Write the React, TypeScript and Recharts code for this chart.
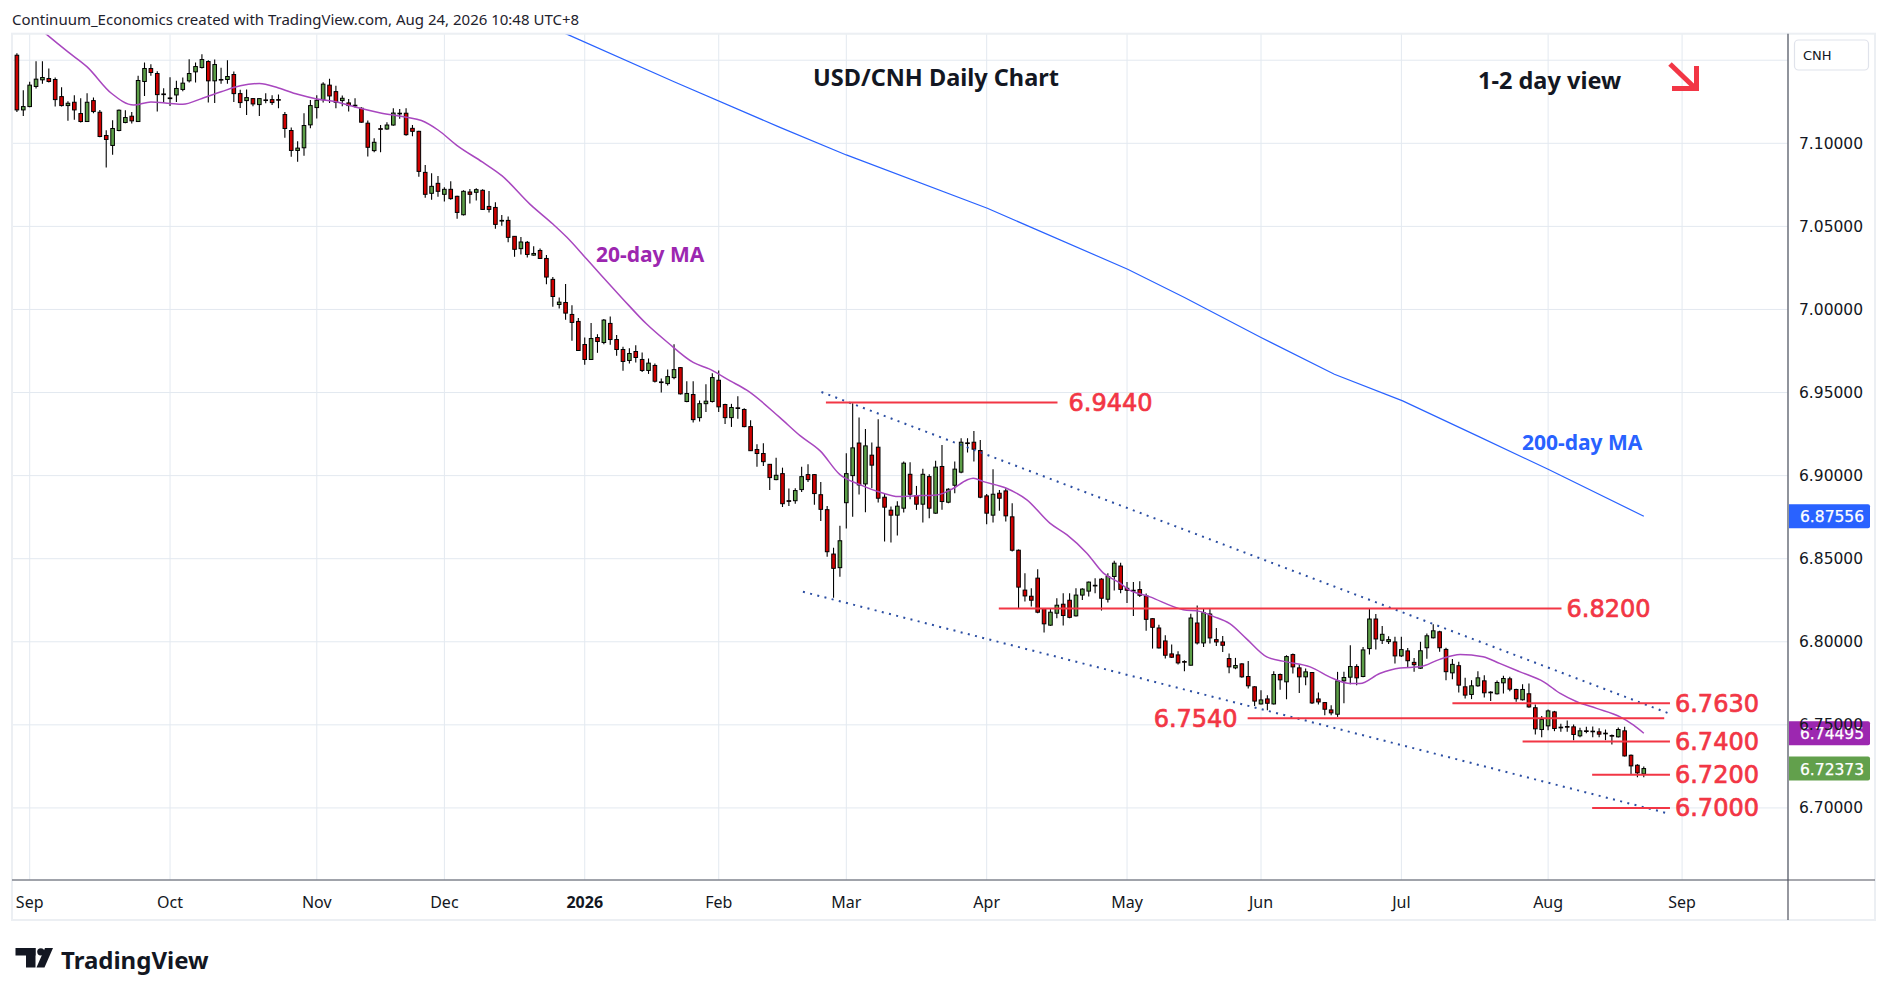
import React from 'react';
import { ComposedChart, Bar, Line, XAxis, YAxis, CartesianGrid, ReferenceLine, ReferenceDot } from 'recharts';

// USD/CNH daily candles, 28 Aug 2025 .. 24 Aug 2026 (x = trading-day index, no 25 Dec / 1 Jan)
const opens = [
  7.1530, 7.1201, 7.1221, 7.1342, 7.1382, 7.1390, 7.1384, 7.1281, 7.1227, 7.1247,
  7.1179, 7.1131, 7.1257, 7.1187, 7.1047, 7.0987, 7.1077, 7.1125, 7.1163, 7.1131,
  7.1372, 7.1450, 7.1420, 7.1297, 7.1273, 7.1291, 7.1324, 7.1376, 7.1430, 7.1456,
  7.1492, 7.1376, 7.1384, 7.1384, 7.1414, 7.1299, 7.1257, 7.1269, 7.1233, 7.1261,
  7.1263, 7.1263, 7.1173, 7.1077, 7.0957, 7.0973, 7.1111, 7.1215, 7.1263, 7.1350,
  7.1311, 7.1257, 7.1243, 7.1229, 7.1211, 7.1121, 7.0956, 7.1088, 7.1086, 7.1110,
  7.1181, 7.1181, 7.1090, 7.1072, 7.0825, 7.0699, 7.0759, 7.0693, 7.0723, 7.0681,
  7.0570, 7.0707, 7.0705, 7.0717, 7.0620, 7.0614, 7.0536, 7.0536, 7.0440, 7.0366,
  7.0404, 7.0327, 7.0355, 7.0307, 7.0181, 7.0030, 7.0042, 6.9970, 6.9928, 6.9789,
  6.9699, 6.9831, 6.9801, 6.9916, 6.9819, 6.9759, 6.9693, 6.9747, 6.9699, 6.9633,
  6.9663, 6.9564, 6.9554, 6.9590, 6.9650, 6.9446, 6.9488, 6.9349, 6.9433, 6.9446,
  6.9574, 6.9428, 6.9349, 6.9408, 6.9398, 6.9295, 6.9157, 6.9133, 6.9068, 6.8976,
  6.9012, 6.8849, 6.8849, 6.8916, 6.9006, 6.9006, 6.8885, 6.8795, 6.8528, 6.8446,
  6.8837, 6.9000, 6.9196, 6.8950, 6.9123, 6.9171, 6.8870, 6.8792, 6.8762, 6.8804,
  6.9008, 6.8880, 6.8828, 6.8994, 6.8774, 6.9055, 6.8840, 6.8942, 6.9021, 6.9197,
  6.9201, 6.9151, 6.8878, 6.8762, 6.8894, 6.8908, 6.8752, 6.8551, 6.8311, 6.8274,
  6.8383, 6.8200, 6.8100, 6.8172, 6.8226, 6.8250, 6.8156, 6.8281, 6.8305, 6.8340,
  6.8377, 6.8256, 6.8393, 6.8456, 6.8322, 6.8310, 6.8314, 6.8276, 6.8139, 6.8083,
  6.8005, 6.7927, 6.7921, 6.7881, 6.7859, 6.8113, 6.7993, 6.8167, 6.8013, 6.7999,
  6.7899, 6.7843, 6.7867, 6.7791, 6.7729, 6.7626, 6.7656, 6.7626, 6.7803, 6.7759,
  6.7923, 6.7843, 6.7789, 6.7815, 6.7656, 6.7634, 6.7590, 6.7564, 6.7765, 6.7787,
  6.7851, 6.7791, 6.7959, 6.8137, 6.8009, 6.8001, 6.7999, 6.7915, 6.7945, 6.7876,
  6.7841, 6.7964, 6.8024, 6.8060, 6.7954, 6.7813, 6.7856, 6.7729, 6.7683, 6.7735,
  6.7765, 6.7697, 6.7687, 6.7753, 6.7777, 6.7713, 6.7651, 6.7687, 6.7603, 6.7472,
  6.7494, 6.7578, 6.7486, 6.7490, 6.7488, 6.7434, 6.7464, 6.7462, 6.7458, 6.7450,
  6.7436, 6.7428, 6.7464, 6.7317, 6.7257, 6.7205,
];
const highs = [
  7.1542, 7.1320, 7.1370, 7.1494, 7.1494, 7.1450, 7.1396, 7.1338, 7.1253, 7.1289,
  7.1271, 7.1301, 7.1275, 7.1201, 7.1079, 7.1139, 7.1203, 7.1199, 7.1189, 7.1406,
  7.1486, 7.1476, 7.1434, 7.1332, 7.1398, 7.1376, 7.1396, 7.1506, 7.1486, 7.1536,
  7.1500, 7.1504, 7.1454, 7.1500, 7.1432, 7.1322, 7.1324, 7.1271, 7.1271, 7.1301,
  7.1289, 7.1293, 7.1189, 7.1095, 7.1013, 7.1181, 7.1261, 7.1289, 7.1368, 7.1388,
  7.1347, 7.1287, 7.1267, 7.1271, 7.1217, 7.1137, 7.1030, 7.1110, 7.1127, 7.1211,
  7.1207, 7.1211, 7.1110, 7.1075, 7.0870, 7.0819, 7.0803, 7.0735, 7.0771, 7.0685,
  7.0717, 7.0725, 7.0729, 7.0723, 7.0713, 7.0645, 7.0568, 7.0560, 7.0442, 7.0436,
  7.0412, 7.0381, 7.0367, 7.0327, 7.0195, 7.0072, 7.0153, 7.0026, 6.9948, 6.9831,
  6.9918, 6.9851, 6.9942, 6.9958, 6.9846, 6.9775, 6.9767, 6.9785, 6.9741, 6.9705,
  6.9675, 6.9584, 6.9638, 6.9791, 6.9654, 6.9568, 6.9568, 6.9452, 6.9550, 6.9616,
  6.9632, 6.9432, 6.9432, 6.9478, 6.9406, 6.9333, 6.9189, 6.9195, 6.9070, 6.9108,
  6.9048, 6.8922, 6.8924, 6.9054, 6.9068, 6.9010, 6.8962, 6.8817, 6.8566, 6.8698,
  6.9135, 6.9436, 6.9350, 6.9281, 6.9199, 6.9339, 6.8894, 6.8814, 6.8846, 6.9085,
  6.9081, 6.8938, 6.9041, 6.9008, 6.9089, 6.9185, 6.8924, 6.9085, 6.9225, 6.9225,
  6.9269, 6.9215, 6.8890, 6.9039, 6.8914, 6.8924, 6.8834, 6.8555, 6.8413, 6.8322,
  6.8437, 6.8204, 6.8202, 6.8262, 6.8292, 6.8292, 6.8322, 6.8322, 6.8363, 6.8383,
  6.8383, 6.8413, 6.8487, 6.8475, 6.8360, 6.8360, 6.8364, 6.8290, 6.8141, 6.8103,
  6.8039, 6.7983, 6.7943, 6.7889, 6.8169, 6.8219, 6.8203, 6.8199, 6.8083, 6.8035,
  6.7929, 6.7903, 6.7871, 6.7885, 6.7733, 6.7708, 6.7678, 6.7823, 6.7809, 6.7919,
  6.7929, 6.7863, 6.7839, 6.7817, 6.7694, 6.7638, 6.7618, 6.7819, 6.7819, 6.7979,
  6.7865, 6.7969, 6.8199, 6.8167, 6.8095, 6.8033, 6.8030, 6.8030, 6.7962, 6.7902,
  6.8000, 6.8050, 6.8106, 6.8066, 6.7964, 6.7896, 6.7880, 6.7783, 6.7769, 6.7823,
  6.7799, 6.7703, 6.7767, 6.7795, 6.7789, 6.7717, 6.7745, 6.7749, 6.7623, 6.7554,
  6.7592, 6.7584, 6.7506, 6.7526, 6.7502, 6.7482, 6.7488, 6.7490, 6.7480, 6.7472,
  6.7442, 6.7484, 6.7488, 6.7321, 6.7263, 6.7249,
];
const lows = [
  7.1189, 7.1165, 7.1217, 7.1330, 7.1358, 7.1366, 7.1221, 7.1221, 7.1135, 7.1141,
  7.1125, 7.1129, 7.1181, 7.1037, 7.0855, 7.0931, 7.1073, 7.1121, 7.1119, 7.1129,
  7.1285, 7.1406, 7.1191, 7.1245, 7.1225, 7.1249, 7.1313, 7.1366, 7.1366, 7.1450,
  7.1245, 7.1243, 7.1358, 7.1358, 7.1249, 7.1213, 7.1171, 7.1223, 7.1165, 7.1241,
  7.1231, 7.1211, 7.1033, 7.0919, 7.0889, 7.0925, 7.1091, 7.1149, 7.1245, 7.1243,
  7.1211, 7.1223, 7.1191, 7.1215, 7.1123, 7.0920, 7.0946, 7.0946, 7.1082, 7.1106,
  7.1147, 7.1046, 7.1042, 7.0799, 7.0673, 7.0661, 7.0679, 7.0649, 7.0661, 7.0546,
  7.0566, 7.0637, 7.0655, 7.0600, 7.0584, 7.0486, 7.0504, 7.0404, 7.0317, 7.0331,
  7.0313, 7.0323, 7.0303, 7.0151, 7.0016, 7.0006, 6.9938, 6.9811, 6.9751, 6.9667,
  6.9697, 6.9739, 6.9791, 6.9787, 6.9721, 6.9631, 6.9675, 6.9681, 6.9624, 6.9612,
  6.9560, 6.9500, 6.9542, 6.9580, 6.9488, 6.9442, 6.9319, 6.9325, 6.9383, 6.9440,
  6.9383, 6.9311, 6.9293, 6.9343, 6.9291, 6.9148, 6.9054, 6.9058, 6.8914, 6.8972,
  6.8811, 6.8817, 6.8831, 6.8902, 6.8962, 6.8825, 6.8727, 6.8512, 6.8265, 6.8392,
  6.8681, 6.8752, 6.8887, 6.8780, 6.8924, 6.8838, 6.8603, 6.8597, 6.8639, 6.8778,
  6.8858, 6.8794, 6.8718, 6.8744, 6.8770, 6.8794, 6.8834, 6.8894, 6.9015, 6.9139,
  6.9085, 6.8864, 6.8708, 6.8718, 6.8788, 6.8724, 6.8543, 6.8198, 6.8243, 6.8212,
  6.8172, 6.8056, 6.8096, 6.8142, 6.8098, 6.8142, 6.8152, 6.8252, 6.8272, 6.8292,
  6.8188, 6.8236, 6.8308, 6.8292, 6.8234, 6.8155, 6.8270, 6.8067, 6.7959, 6.7959,
  6.7899, 6.7903, 6.7863, 6.7823, 6.7857, 6.7983, 6.7969, 6.7989, 6.7975, 6.7939,
  6.7811, 6.7835, 6.7783, 6.7719, 6.7614, 6.7622, 6.7588, 6.7622, 6.7712, 6.7654,
  6.7809, 6.7692, 6.7739, 6.7626, 6.7622, 6.7558, 6.7558, 6.7548, 6.7630, 6.7745,
  6.7739, 6.7787, 6.7923, 6.7953, 6.7987, 6.7987, 6.7870, 6.7909, 6.7845, 6.7819,
  6.7837, 6.7898, 6.8020, 6.7940, 6.7769, 6.7775, 6.7695, 6.7659, 6.7655, 6.7729,
  6.7665, 6.7643, 6.7683, 6.7689, 6.7703, 6.7639, 6.7647, 6.7603, 6.7442, 6.7426,
  6.7468, 6.7462, 6.7458, 6.7458, 6.7408, 6.7426, 6.7450, 6.7426, 6.7426, 6.7408,
  6.7382, 6.7424, 6.7309, 6.7201, 6.7185, 6.7185,
];
const closes = [
  7.1201, 7.1221, 7.1350, 7.1386, 7.1396, 7.1372, 7.1263, 7.1227, 7.1241, 7.1201,
  7.1131, 7.1247, 7.1191, 7.1041, 7.1023, 7.1089, 7.1199, 7.1155, 7.1135, 7.1378,
  7.1450, 7.1426, 7.1293, 7.1293, 7.1269, 7.1330, 7.1362, 7.1420, 7.1462, 7.1504,
  7.1376, 7.1474, 7.1382, 7.1402, 7.1299, 7.1245, 7.1275, 7.1237, 7.1269, 7.1259,
  7.1245, 7.1261, 7.1089, 7.0957, 7.0971, 7.1107, 7.1227, 7.1259, 7.1356, 7.1285,
  7.1247, 7.1271, 7.1227, 7.1225, 7.1127, 7.0976, 7.1006, 7.1084, 7.1110, 7.1182,
  7.1177, 7.1052, 7.1072, 7.0831, 7.0693, 7.0741, 7.0711, 7.0723, 7.0667, 7.0584,
  7.0711, 7.0693, 7.0721, 7.0602, 7.0602, 7.0512, 7.0532, 7.0434, 7.0362, 7.0406,
  7.0331, 7.0337, 7.0307, 7.0195, 7.0078, 7.0044, 6.9978, 6.9922, 6.9753, 6.9699,
  6.9825, 6.9807, 6.9936, 6.9819, 6.9759, 6.9687, 6.9735, 6.9711, 6.9633, 6.9677,
  6.9568, 6.9560, 6.9596, 6.9638, 6.9492, 6.9494, 6.9337, 6.9433, 6.9448, 6.9590,
  6.9414, 6.9349, 6.9410, 6.9404, 6.9295, 6.9150, 6.9133, 6.9084, 6.8988, 6.9002,
  6.8831, 6.8845, 6.8910, 6.8994, 6.8976, 6.8892, 6.8797, 6.8542, 6.8442, 6.8608,
  6.9012, 6.9167, 6.8944, 6.9179, 6.9063, 6.8864, 6.8810, 6.8762, 6.8816, 6.9075,
  6.8888, 6.8828, 6.9008, 6.8804, 6.9051, 6.8844, 6.8918, 6.9039, 6.9201, 6.9193,
  6.9159, 6.8870, 6.8774, 6.8888, 6.8864, 6.8758, 6.8551, 6.8329, 6.8276, 6.8250,
  6.8178, 6.8108, 6.8178, 6.8220, 6.8158, 6.8147, 6.8281, 6.8317, 6.8359, 6.8336,
  6.8262, 6.8393, 6.8473, 6.8315, 6.8310, 6.8305, 6.8280, 6.8135, 6.8087, 6.7963,
  6.7919, 6.7907, 6.7873, 6.7877, 6.8143, 6.7993, 6.8175, 6.8023, 6.7999, 6.7979,
  6.7849, 6.7857, 6.7789, 6.7735, 6.7643, 6.7650, 6.7630, 6.7803, 6.7771, 6.7911,
  6.7849, 6.7789, 6.7819, 6.7632, 6.7638, 6.7594, 6.7572, 6.7765, 6.7785, 6.7851,
  6.7783, 6.7951, 6.8137, 6.8017, 6.8045, 6.8013, 6.7915, 6.7953, 6.7886, 6.7862,
  6.7946, 6.8036, 6.8066, 6.7964, 6.7820, 6.7864, 6.7739, 6.7679, 6.7735, 6.7783,
  6.7693, 6.7693, 6.7755, 6.7779, 6.7715, 6.7657, 6.7713, 6.7608, 6.7476, 6.7532,
  6.7584, 6.7478, 6.7482, 6.7486, 6.7442, 6.7464, 6.7460, 6.7460, 6.7444, 6.7446,
  6.7432, 6.7472, 6.7313, 6.7253, 6.7211, 6.7237,
];

const monthTicks = [2, 24, 47, 67, 89, 110, 130, 152, 174, 195, 217, 240, 261];
const monthLabels = ['Sep', 'Oct', 'Nov', 'Dec', '2026', 'Feb', 'Mar', 'Apr', 'May', 'Jun', 'Jul', 'Aug', 'Sep'];
const priceTicks = [6.7, 6.75, 6.8, 6.85, 6.9, 6.95, 7.0, 7.05, 7.1, 7.15];

// moving averages
const ma20Index = [
  0, 4.5, 8, 11, 14.8, 18.3, 21, 24, 26, 29, 32, 35, 38, 41, 44, 47, 50, 53, 57, 61,
  63.4, 66, 69, 73, 76, 80.4, 84, 86.2, 89.3, 91.4, 95, 98.7, 102, 106, 108.5, 111.8, 114.4, 119.6, 122.8, 125.9,
  129, 132.1, 135.8, 138.1, 140.5, 144.2, 146.8, 148.9, 149.9, 151.5, 155.1, 158.3, 161.9, 164.6, 167.7, 170.3, 172.9, 174, 177.6, 182.8,
  185.4, 187.5, 190.1, 192.7, 195.9, 199, 202.7, 206.3, 209, 210.5, 213.6, 216.8, 219.9, 223, 226.2, 229.8, 232.4, 235.6, 239.3, 241.9,
  244.5, 247.6, 251.3, 253.4, 255,
];
const ma20Values = [
  7.181, 7.166, 7.155, 7.146, 7.1301, 7.1230, 7.1249, 7.1240, 7.1235, 7.1270, 7.1310, 7.1346, 7.1360, 7.1333, 7.1295, 7.1267, 7.1250, 7.1218, 7.1183, 7.1157,
  7.1137, 7.1080, 7.0986, 7.0886, 7.0805, 7.0634, 7.0514, 7.0434, 7.0303, 7.0213, 7.0062, 6.9912, 6.9801, 6.9681, 6.9642, 6.9570, 6.9514, 6.9349, 6.9239, 6.9149,
  6.9006, 6.8946, 6.8894, 6.8874, 6.8878, 6.8884, 6.8924, 6.8974, 6.8984, 6.8964, 6.8924, 6.8854, 6.8714, 6.8643, 6.8533, 6.8413, 6.8353, 6.8320, 6.8270, 6.8193,
  6.8183, 6.8153, 6.8109, 6.8019, 6.7909, 6.7879, 6.7849, 6.7779, 6.7749, 6.7749, 6.7809, 6.7842, 6.7849, 6.7894, 6.7924, 6.7910, 6.7870, 6.7819, 6.7759, 6.7689,
  6.7639, 6.7599, 6.7548, 6.7498, 6.74495,
];
const ma200Index = [80, 86, 103, 119.6, 130, 152.1, 174.1, 183, 195, 206.5, 217.2, 228.9, 240, 255];
const ma200Values = [7.176, 7.166, 7.137, 7.1096, 7.093, 7.0609, 7.0242, 7.0072, 6.9831, 6.961, 6.945, 6.9239, 6.9038, 6.87556];

// drawn support / resistance levels
const levelValues = [6.944, 6.82, 6.763, 6.754, 6.74, 6.72, 6.7];
const levelNames = ['6.9440', '6.8200', '6.7630', '6.7540', '6.7400', '6.7200', '6.7000'];
const levelFrom = [126.8, 153.9, 225.0, 192.9, 236.0, 246.9, 246.9];
const levelTo = [163.1, 242.1, 259.1, 258.2, 259.1, 259.1, 259.1];
const levelLabelLeft = [false, false, false, true, false, false, false];

// falling channel (dotted)
const channelStart = [[126.1, 6.9503], [123.2, 6.8301]];
const channelEnd = [[258.8, 6.7571], [259.1, 6.6964]];

const lastValues = [6.87556, 6.74495, 6.72373];
const lastColors = ['#2962ff', '#9c27b0', '#62a04c'];

const SANS = '"Noto Sans", sans-serif';
const WIDE = '"DejaVu Sans", sans-serif';
const RED = '#f23645';
const UP = '#5c9e47';
const DOWN = '#d00000';

const candles = opens.map((o, i) => ({
  i,
  range: [lows[i], highs[i]],
  open: o,
  high: highs[i],
  low: lows[i],
  close: closes[i],
}));
const ma20Data = ma20Index.map((i, k) => ({ i, v: ma20Values[k] }));
const ma200Data = ma200Index.map((i, k) => ({ i, v: ma200Values[k] }));

const Candle = (props: any) => {
  const { x, y, width, height, payload } = props;
  if (x == null || y == null || !payload) return null;
  const { open, close, high, low } = payload;
  const top = Math.min(y, y + height);
  const h = Math.abs(height);
  const cx = x + width / 2;
  const per = high > low ? h / (high - low) : 0;
  const yOf = (v: number) => top + (high - v) * per;
  const bTop = yOf(Math.max(open, close));
  const bBot = yOf(Math.min(open, close));
  return (
    <g>
      <line x1={cx} x2={cx} y1={top} y2={top + h} stroke="#000" strokeWidth={1.1} />
      <rect x={cx - 1.8} y={bTop} width={3.6} height={Math.max(bBot - bTop, 0.6)}
        fill={close >= open ? UP : DOWN} stroke="#000" strokeWidth={1} />
    </g>
  );
};

const TimeTick = (props: any) => {
  const { x, y, payload } = props;
  const k = monthTicks.indexOf(payload.value);
  const label = monthLabels[k];
  return (
    <text x={x} y={y + 28} textAnchor="middle" fontFamily={SANS} fontSize={16}
      fontWeight={label === '2026' ? 700 : 400} fill="#131722">{label}</text>
  );
};

const PriceTick = (props: any) => {
  const { x, y, payload } = props;
  if (payload.value > 7.12) return <g />;
  return (
    <text x={x + 11} y={y + 5.5} fontFamily={WIDE} fontSize={15.5} fill="#131722">
      {payload.value.toFixed(5)}
    </text>
  );
};

const levelLabel = (text: string, left: boolean, gap: number) => (p: any) => {
  const vb = p.viewBox;
  const cx = vb.x + vb.width / 2;
  const cy = vb.y + vb.height / 2;
  return (
    <text x={left ? cx - gap : cx + gap} y={cy + 8.5} textAnchor={left ? 'end' : 'start'}
      fontFamily={WIDE} fontSize={24} fill={RED} stroke={RED} strokeWidth={0.7}>{text}</text>
  );
};

const badge = (value: number, color: string) => (p: any) => {
  const vb = p.viewBox;
  const bx = vb.x + vb.width + 1;
  return (
    <g>
      <path d={`M${bx},${vb.y - 12} h79 a2,2 0 0 1 2,2 v20 a2,2 0 0 1 -2,2 h-79 z`} fill={color} />
      <text x={bx + 11} y={vb.y + 6} fontFamily={WIDE} fontSize={15.5} fill="#fff"
        stroke="#fff" strokeWidth={0.25}>{value.toFixed(5)}</text>
    </g>
  );
};

const App: React.FC = () => {
  return (
    <div style={{ position: 'absolute', left: 0, top: 0, width: 1888, height: 996, background: '#fff' }}>
      <ComposedChart width={1888} height={996} data={candles}
        margin={{ top: 33.7, right: 13, bottom: 76, left: 12 }}>
        <CartesianGrid stroke="#e3e9f0" strokeWidth={1} />
        <XAxis dataKey="i" type="number" domain={[-0.774, 277.6]} ticks={monthTicks} interval={0}
          allowDataOverflow height={40} axisLine={false} tickLine={false} tickSize={0} tickMargin={0}
          tick={<TimeTick />} />
        <YAxis orientation="right" type="number" domain={[6.65663, 7.16596]} ticks={priceTicks} interval={0}
          allowDataOverflow width={87} axisLine={false} tickLine={false} tickSize={0} tickMargin={0}
          tick={<PriceTick />} />

        <Line data={ma200Data} dataKey="v" type="linear" stroke="#2962ff" strokeWidth={1.2}
          dot={false} activeDot={false} isAnimationActive={false} />
        <Line data={ma20Data} dataKey="v" type="monotone" stroke="#a847bf" strokeWidth={1.5}
          dot={false} activeDot={false} isAnimationActive={false} />

        {channelStart.map((s, k) => (
          <ReferenceLine key={'ch' + k} ifOverflow="visible"
            segment={[{ x: s[0], y: s[1] }, { x: channelEnd[k][0], y: channelEnd[k][1] }]}
            stroke="#2b4ea2" strokeWidth={2} strokeDasharray="2 5.4" />
        ))}
        {levelValues.map((v, k) => (
          <ReferenceLine key={'lv' + k} ifOverflow="visible"
            segment={[{ x: levelFrom[k], y: v }, { x: levelTo[k], y: v }]}
            stroke={RED} strokeWidth={2} />
        ))}

        <Bar dataKey="range" barSize={5} shape={<Candle />} isAnimationActive={false} />

        {levelValues.map((v, k) => (
          <ReferenceDot key={'lb' + k} x={levelLabelLeft[k] ? levelFrom[k] : levelTo[k]} y={v} r={1}
            fill="none" stroke="none" ifOverflow="visible"
            label={levelLabel(levelNames[k], levelLabelLeft[k], k === 0 ? 11 : levelLabelLeft[k] ? 10 : 5)} />
        ))}
        {lastValues.map((v, k) => (
          <ReferenceLine key={'bd' + k} y={v} stroke="none" ifOverflow="visible" label={badge(v, lastColors[k])} />
        ))}
      </ComposedChart>

      <svg width={1888} height={996} style={{ position: 'absolute', left: 0, top: 0, pointerEvents: 'none' }}>
        <text x={12} y={25} fontFamily={SANS} fontSize={15} fill="#1e222d">
          Continuum_Economics created with TradingView.com, Aug 24, 2026 10:48 UTC+8
        </text>

        <rect x={12} y={33.7} width={1863} height={886.3} fill="none" stroke="#eceff3" strokeWidth={2} />
        <line x1={1788} x2={1788} y1={33.7} y2={920} stroke="#50535e" strokeWidth={1.2} />
        <line x1={12} x2={1875} y1={880} y2={880} stroke="#50535e" strokeWidth={1.2} />

        <rect x={1794.5} y={40} width={74} height={30} rx={4} fill="#fff" stroke="#e0e3eb" strokeWidth={1.2} />
        <text x={1803} y={60} fontFamily={WIDE} fontSize={13} fill="#131722">CNH</text>

        <text x={813} y={85.7} fontFamily={SANS} fontSize={23.5} fontWeight={700} fill="#131722">USD/CNH Daily Chart</text>
        <text x={1478} y={89} fontFamily={SANS} fontSize={23.5} fontWeight={700} fill="#131722">1-2 day view</text>
        <g stroke={RED} strokeWidth={5} fill="none">
          <line x1={1670} y1={64} x2={1694} y2={87} />
          <polyline points="1672,88.5 1696.5,88.5 1696.5,66" />
        </g>
        <text x={596} y={262} fontFamily={SANS} fontSize={21} fontWeight={700} fill="#9c27b0">20-day MA</text>
        <text x={1522} y={450} fontFamily={SANS} fontSize={21} fontWeight={700} fill="#2962ff">200-day MA</text>

        <g fill="#131722">
          <rect x={15.5} y={948} width={20} height={7.5} />
          <rect x={26} y={948} width={9.5} height={19.5} />
          <circle cx={40.8} cy={951.8} r={3.6} />
          <polygon points="45,948 53,948 44.5,967.5 36.5,967.5" />
        </g>
        <text x={61} y={968.5} fontFamily={SANS} fontSize={24} fontWeight={700} fill="#131722">TradingView</text>
      </svg>
    </div>
  );
};

export default App;
